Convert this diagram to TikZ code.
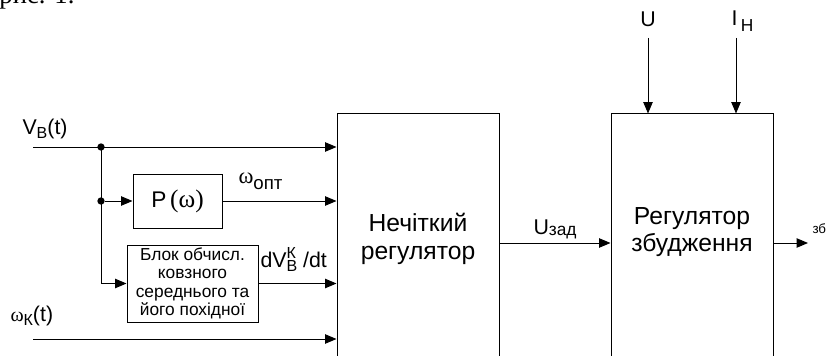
\documentclass[tikz,border=0pt]{standalone}
\usepackage{fontspec}
\setmainfont{Liberation Sans}
\newfontfamily\symbfont{Liberation Serif}
\usetikzlibrary{arrows.meta, positioning, calc}

\begin{document}
\begin{tikzpicture}[
            x={(0.75pt,0pt)},
            y={(0pt,-0.75pt)},
            >={Triangle[length=8.5pt,width=7pt]},
            line width=0.75pt,
            font=\fontsize{16}{18}\selectfont,
            bigbox/.style={draw, minimum width=121.5pt, minimum height=193.5pt, inner sep=0pt},
            bigtext/.style={align=center, inner sep=0pt, font=\fontsize{18.5}{20.6}\selectfont},
            smallbox/.style={draw, inner sep=0pt},
            junction/.style={circle, fill, inner sep=0pt, minimum size=5.5pt},
            sig/.style={inner sep=0pt}
        ]
            \useasboundingbox (0,0) rectangle (830,356);

            % --- Caption fragment (cut by the page) ---
            \node[sig, anchor=base west, font=\symbfont\fontsize{20}{20}\selectfont] (fig) at (-1,4) {рис. 1.};

            % --- Main blocks ---
            \node[bigbox] (fuzzy) at (418,243) {};
            \node[bigtext] (fuzzytxt) at (418,239) {Нечіткий\\регулятор};
            \node[bigbox] (exc) at (692,243) {};
            \node[bigtext] (exctxt) at (692,232) {Регулятор\\збудження};

            % --- Small blocks ---
            \node[smallbox, minimum width=66.75pt, minimum height=40.5pt, font=\fontsize{17}{17}\selectfont] (pw) at (177.5,201)
                {P\,{\symbfont\fontsize{19}{19}\selectfont(ω)}};
            \node[smallbox, minimum width=98.25pt, minimum height=57.75pt, align=center,
                  font=\fontsize{13}{13.8}\selectfont] (avg) at (192.5,283.5)
                {Блок обчисл.\\ковзного\\середнього та\\його похідної};

            % --- Inputs and junctions ---
            \coordinate (vin) at (33,147);
            \coordinate (win) at (33,339);
            \node[junction] (j1) at (101,147) {};
            \node[junction] (j2) at (101,201) {};

            % --- Connections into the fuzzy controller ---
            \draw[->] (vin) -- (vin -| fuzzy.west);
            \draw[->] (j1.center) |- (avg.west);
            \draw[->] (j2) -- (pw.west);
            \draw[->] (pw.east) -- (pw.east -| fuzzy.west);
            \draw[->] (avg.east) -- (avg.east -| fuzzy.west);
            \draw[->] (win) -- (win -| fuzzy.west);

            % --- Excitation controller ---
            \coordinate (uin) at (648,38);
            \coordinate (iin) at (736,38);
            \coordinate (eout) at (808,243);
            \draw[->] (fuzzy.east) -- (exc.west);
            \draw[->] (uin) -- (uin |- exc.north);
            \draw[->] (iin) -- (iin |- exc.north);
            \draw[->] (exc.east) -- (eout);

            % --- Signal labels ---
            \node[sig, anchor=base west] (lvb) at (22,134)
                {V\raisebox{-3.5pt}{\fontsize{12}{12}\selectfont В}(t)};
            \node[sig, anchor=base west] (lopt) at (238,183)
                {{\symbfont\fontsize{17}{17}\selectfont ω}\raisebox{-5pt}{\fontsize{14}{14}\selectfont опт}};
            \node[sig, anchor=base west] (ldv) at (260,267)
                {dV\rlap{\raisebox{6.5pt}{\fontsize{12}{12}\selectfont К}}\raisebox{-3.5pt}{\fontsize{12}{12}\selectfont В} /dt};
            \node[sig, anchor=base west] (lwk) at (10,321)
                {{\symbfont\fontsize{15}{15}\selectfont ω}\raisebox{-3.5pt}{\fontsize{12}{12}\selectfont К}(t)};
            \node[sig, anchor=base west] (lzad) at (533,234)
                {U\raisebox{-1pt}{\fontsize{13}{13}\selectfont зад}};
            \node[sig, anchor=base] (lu) at (648,27) {U};
            \node[sig, anchor=base west] (li) at (731,26)
                {I\,\raisebox{-4.5pt}{\fontsize{13}{13}\selectfont Н}};
            \node[sig, anchor=base west, font=\fontsize{10}{10}\selectfont] (lexc) at (812,233) {зб};

        \end{tikzpicture}
\end{document}
